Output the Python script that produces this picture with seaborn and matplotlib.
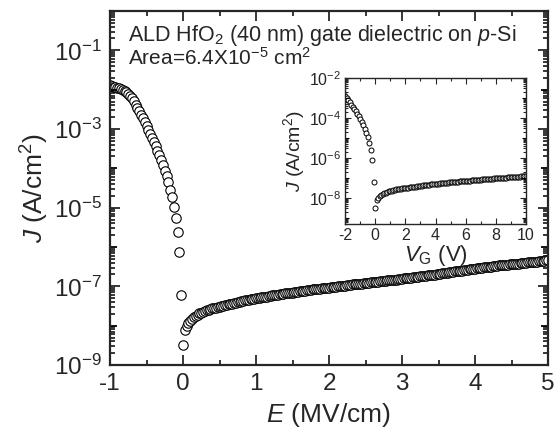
import numpy as np
import pandas as pd
import matplotlib
matplotlib.use("Agg")
import matplotlib.pyplot as plt
import matplotlib.ticker as mticker
import seaborn as sns

# ---- data ----
# gate voltage sweep: -4 V .. 20 V in 0.1 V steps, oxide thickness 40 nm
V_start, V_step, n_pts = -4.0, 0.1, 241
t_ox_cm = 40e-7
# log10(J) for the negative branch, E = -1.0 ... 0.0 MV/cm
logJ_neg = [-1.88, -1.90, -1.92, -1.94, -1.96, -1.97, -1.99, -2.01, -2.04, -2.07,
            -2.11, -2.16, -2.22, -2.30, -2.38, -2.47, -2.55, -2.64, -2.73, -2.82,
            -2.92, -3.02, -3.12, -3.22, -3.33, -3.44, -3.55, -3.67, -3.79, -3.92,
            -4.06, -4.20, -4.36, -4.54, -4.74, -4.98, -5.27, -5.62, -6.13, -7.22,
            -8.50]
# log10(J) for the positive branch, E = 0.025 ... 5.0 MV/cm
logJ_pos = [-8.10, -8.00, -7.93, -7.87, -7.82, -7.78, -7.75, -7.72, -7.69, -7.67,
            -7.65, -7.63, -7.61, -7.59, -7.58, -7.56, -7.55, -7.54, -7.53, -7.52,
            -7.51, -7.50, -7.48, -7.47, -7.46, -7.45, -7.44, -7.43, -7.42, -7.41,
            -7.39, -7.38, -7.37, -7.36, -7.35, -7.34, -7.33, -7.32, -7.31, -7.30,
            -7.29, -7.29, -7.28, -7.27, -7.26, -7.26, -7.25, -7.24, -7.23, -7.23,
            -7.22, -7.21, -7.20, -7.20, -7.19, -7.18, -7.18, -7.17, -7.16, -7.16,
            -7.15, -7.14, -7.14, -7.13, -7.12, -7.12, -7.11, -7.10, -7.10, -7.09,
            -7.08, -7.08, -7.07, -7.06, -7.06, -7.05, -7.05, -7.04, -7.03, -7.03,
            -7.02, -7.02, -7.01, -7.01, -7.00, -6.99, -6.99, -6.98, -6.98, -6.97,
            -6.97, -6.96, -6.95, -6.95, -6.94, -6.94, -6.93, -6.93, -6.92, -6.92,
            -6.91, -6.91, -6.90, -6.90, -6.89, -6.89, -6.88, -6.87, -6.87, -6.86,
            -6.86, -6.85, -6.85, -6.84, -6.84, -6.83, -6.83, -6.82, -6.82, -6.81,
            -6.80, -6.80, -6.79, -6.79, -6.78, -6.77, -6.77, -6.76, -6.76, -6.75,
            -6.74, -6.74, -6.73, -6.72, -6.72, -6.71, -6.70, -6.70, -6.69, -6.68,
            -6.68, -6.67, -6.66, -6.66, -6.65, -6.64, -6.64, -6.63, -6.62, -6.62,
            -6.61, -6.60, -6.60, -6.59, -6.58, -6.58, -6.57, -6.56, -6.56, -6.55,
            -6.54, -6.54, -6.53, -6.53, -6.52, -6.51, -6.51, -6.50, -6.50, -6.49,
            -6.49, -6.48, -6.47, -6.47, -6.46, -6.46, -6.45, -6.45, -6.44, -6.44,
            -6.43, -6.43, -6.42, -6.42, -6.41, -6.41, -6.40, -6.40, -6.39, -6.39,
            -6.38, -6.38, -6.37, -6.37, -6.36, -6.36, -6.35, -6.35, -6.34, -6.34]

main_xticks = [-1, 0, 1, 2, 3, 4, 5]
inset_xticks = [-2, 0, 2, 4, 6, 8, 10]
main_ylabels_exp = [-9, -7, -5, -3, -1]
inset_ylabels_exp = [-8, -6, -4, -2]
title_line1 = r"ALD HfO$_2$ (40 nm) gate dielectric on $\mathit{p}$-Si"
title_line2 = r"Area=6.4X10$^{-5}$ cm$^2$"

V = np.round(V_start + V_step * np.arange(n_pts), 2)
E = np.round(V / t_ox_cm / 1e6, 4)
J = 10.0 ** np.array(logJ_neg + logJ_pos)
df = pd.DataFrame({"V": V, "E": E, "J": J})

# ---- style ----
sns.set_theme(style="ticks")
plt.rcParams["font.family"] = ["Liberation Sans", "DejaVu Sans"]
plt.rcParams["mathtext.fontset"] = "custom"
plt.rcParams["mathtext.rm"] = "Liberation Sans"
plt.rcParams["mathtext.it"] = "Liberation Sans:italic"
plt.rcParams["mathtext.bf"] = "Liberation Sans:bold"
plt.rcParams["axes.linewidth"] = 1.6
plt.rcParams["axes.unicode_minus"] = False


def setup_log_y(a, label_exps, all_exps, major_len, width):
    # labelled decades as major ticks; unlabelled decades drawn as long ticks too
    a.yaxis.set_major_locator(mticker.FixedLocator([10.0**e for e in label_exps]))
    a.yaxis.set_major_formatter(mticker.FuncFormatter(
        lambda v, p: r"$\mathregular{10^{%d}}$" % int(round(np.log10(v)))))
    a.yaxis.set_minor_locator(mticker.LogLocator(base=10, subs=np.arange(2, 10), numticks=30))
    a.yaxis.set_minor_formatter(mticker.NullFormatter())
    for e in all_exps:
        if e not in label_exps:
            a.plot([0, major_len], [10.0**e, 10.0**e], transform=a.get_yaxis_transform(),
                   color="black", lw=width, solid_capstyle="butt", clip_on=False)
            a.plot([1, 1 - major_len], [10.0**e, 10.0**e], transform=a.get_yaxis_transform(),
                   color="black", lw=width, solid_capstyle="butt", clip_on=False)


fig = plt.figure(figsize=(5.56, 4.38), dpi=100)
ax = fig.add_axes([110/556, 1 - 365/438, (548-110)/556, (365-11)/438])

sns.scatterplot(data=df, x="E", y="J", ax=ax, marker="o", s=46,
                facecolor="white", edgecolor="black", linewidth=0.8, legend=False)
ax.set_yscale("log")
ax.set_xlim(-1, 5)
ax.set_ylim(1e-9, 1)
ax.set_xticks(main_xticks)
ax.xaxis.set_minor_locator(mticker.MultipleLocator(0.5))
setup_log_y(ax, main_ylabels_exp, [-8, -6, -4, -2], 7 / 438, 1.3)
ax.tick_params(which="both", direction="in", top=True, right=True, labelsize=17.5, width=1.3)
ax.tick_params(which="major", length=7, pad=6)
ax.tick_params(which="minor", length=3.5)
ax.set_xlabel(r"$\mathit{E}$ (MV/cm)", fontsize=19, labelpad=4)
ax.set_ylabel(r"$\mathit{J}$ (A/cm$^2$)", fontsize=19, labelpad=2)

fig.text(128/556, 1 - 41/438, title_line1, fontsize=15.5, va="baseline", ha="left")
fig.text(128/556, 1 - 65/438, title_line2, fontsize=15, va="baseline", ha="left")

# ---- inset ----
axi = fig.add_axes([345/556, 1 - 224/438, (526-345)/556, (224-78)/438])
sns.scatterplot(data=df, x="V", y="J", ax=axi, marker="o", s=13,
                facecolor="white", edgecolor="black", linewidth=0.7, legend=False)
axi.set_yscale("log")
axi.set_xlim(-2, 10)
axi.set_ylim(10**-9.32, 1e-2)
axi.set_xticks(inset_xticks)
axi.xaxis.set_minor_locator(mticker.MultipleLocator(1))
setup_log_y(axi, inset_ylabels_exp, [-9, -7, -5, -3], 4 / 181, 0.8)
for s in axi.spines.values():
    s.set_linewidth(1.0)
axi.tick_params(which="both", direction="in", top=True, right=True, labelsize=11.5, width=0.8)
axi.tick_params(which="major", length=4, pad=3)
axi.tick_params(which="minor", length=2)
axi.set_xlabel(r"$\mathit{V}_{\mathrm{G}}$ (V)", fontsize=16, labelpad=0)
axi.set_ylabel(r"$\mathit{J}$ (A/cm$^2$)", fontsize=14, labelpad=1)

fig.savefig("out.png", dpi=100)
